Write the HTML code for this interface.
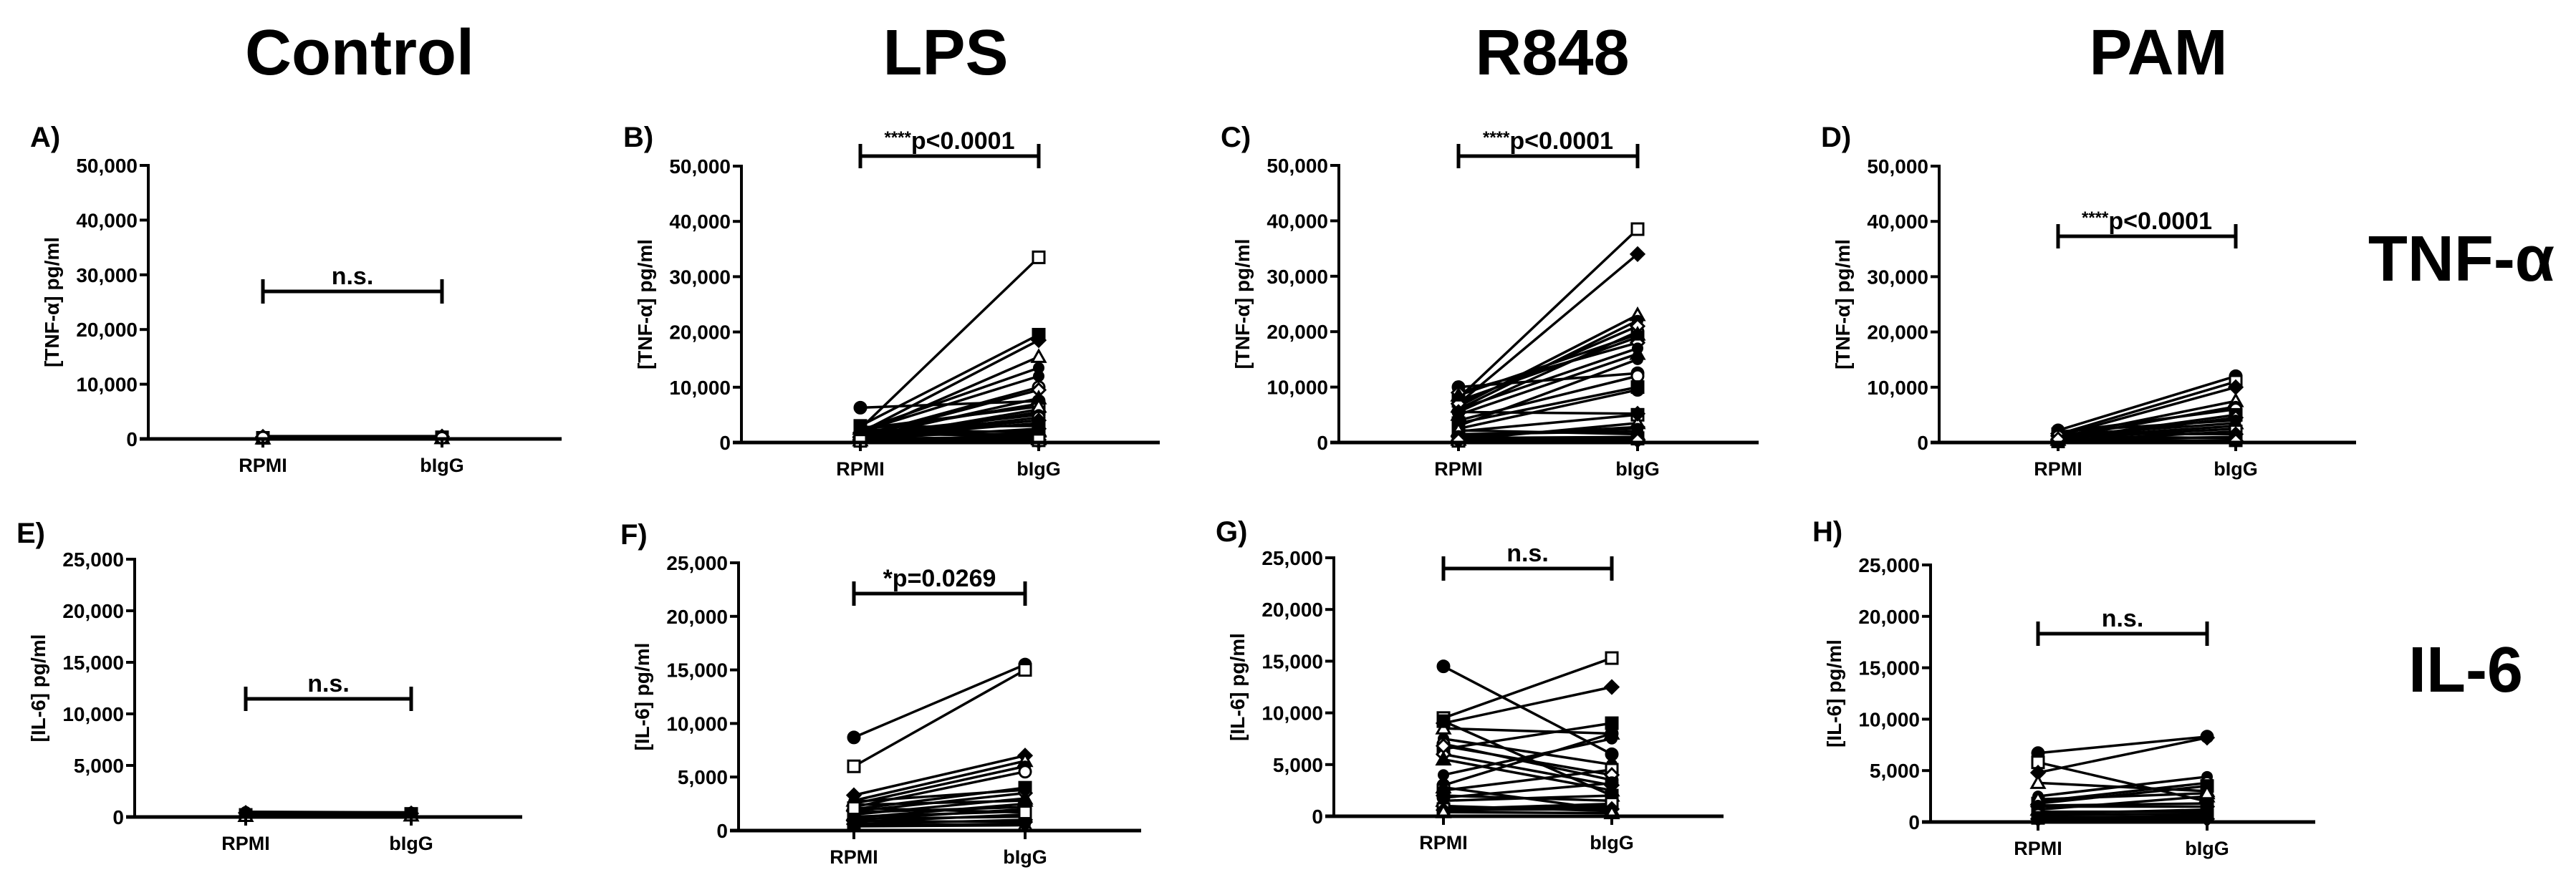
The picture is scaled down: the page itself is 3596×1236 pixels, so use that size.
<!DOCTYPE html>
<html><head><meta charset="utf-8"><style>
html,body{margin:0;padding:0;background:#fff;}
svg{display:block;font-family:"Liberation Sans",sans-serif;}
</style></head><body>
<svg id="fig" width="3596" height="1236" viewBox="0 0 3596 1236" xmlns="http://www.w3.org/2000/svg">
<text x="502" y="104" font-size="90" font-weight="bold" text-anchor="middle">Control</text>
<text x="1320" y="104" font-size="90" font-weight="bold" text-anchor="middle">LPS</text>
<text x="2167" y="104" font-size="90" font-weight="bold" text-anchor="middle">R848</text>
<text x="3013" y="104" font-size="90" font-weight="bold" text-anchor="middle">PAM</text>
<text x="3436" y="392" font-size="90" font-weight="bold" text-anchor="middle">TNF-α</text>
<text x="3442" y="966" font-size="90" font-weight="bold" text-anchor="middle">IL-6</text>
</svg>
<script>
const categories = ["RPMI", "bIgG"];
const tnfTicks = [0, 10000, 20000, 30000, 40000, 50000];
const il6Ticks = [0, 5000, 10000, 15000, 20000, 25000];
const tnfTickLabels = ["0", "10,000", "20,000", "30,000", "40,000", "50,000"];
const il6TickLabels = ["0", "5,000", "10,000", "15,000", "20,000", "25,000"];

const aRpmi = [300, 200, 400, 100, 500, 250];
const aBigg = [350, 300, 450, 150, 500, 200];
const bRpmi = [6300, 2500, 1800, 1500, 2000, 1200, 3000, 1000, 800, 2200, 1700, 500, 300, 2500, 1500, 1000, 2800, 600, 1900, 1400, 700, 2000, 1100, 400, 900, 1600, 2400, 200, 1300, 600, 900, 300];
const bBigg = [7500, 33500, 18500, 15500, 12000, 10000, 19500, 9500, 8000, 13500, 7000, 6000, 5500, 6500, 5000, 4500, 3000, 2500, 2000, 1500, 1000, 800, 4000, 600, 3500, 1200, 1800, 500, 2200, 700, 300, 400];
const cRpmi = [10000, 8000, 7000, 6500, 6000, 5500, 7500, 9000, 5000, 3000, 2500, 2000, 1000, 500, 6000, 4000, 3500, 7000, 8500, 1500, 800, 300, 5500, 2200, 1200, 600, 900, 400];
const cBigg = [12500, 38500, 34000, 23000, 22000, 20000, 19000, 18000, 16000, 15000, 9500, 5000, 2800, 3500, 17000, 12000, 10000, 21000, 19500, 2000, 1000, 800, 5200, 1500, 2500, 600, 700, 400];
const dRpmi = [2200, 1500, 1200, 1000, 800, 1800, 600, 400, 1300, 900, 700, 300, 1600, 500, 2000, 1100, 200, 600];
const dBigg = [12000, 11000, 10000, 7500, 6500, 6000, 5000, 4500, 3500, 3000, 2500, 2000, 1500, 1000, 4000, 800, 400, 300];
const eRpmi = [300, 200, 400, 100, 500];
const eBigg = [250, 300, 350, 150, 450];
const fRpmi = [8700, 6000, 3300, 2800, 2500, 2200, 2000, 1800, 1500, 1200, 1000, 800, 600, 400, 2700, 1700, 1300, 900, 2400, 500, 1100, 2100];
const fBigg = [15500, 15000, 7000, 6500, 6000, 5500, 4000, 3500, 3000, 2500, 2000, 1500, 1000, 500, 3800, 2200, 1800, 800, 2800, 600, 1300, 1700];
const gRpmi = [14500, 9500, 9000, 8500, 7500, 7000, 6500, 6000, 5500, 4000, 3000, 2500, 2000, 1500, 1000, 500, 9200, 6800, 2800, 800, 1800, 700, 600, 400];
const gBigg = [6000, 15300, 12500, 8000, 5000, 3500, 9000, 3000, 2500, 7500, 8000, 4500, 1500, 2000, 500, 1000, 2000, 4000, 600, 800, 3200, 1200, 700, 300];
const hRpmi = [6700, 5800, 4800, 3800, 2500, 2000, 1800, 1500, 1200, 1000, 800, 500, 300, 2200, 1600, 700, 400];
const hBigg = [8300, 2000, 8200, 3000, 4400, 3800, 3500, 1500, 2500, 1000, 1200, 500, 300, 2800, 1800, 800, 600];

const panels = [
 {id:"a", lab:"A)", ax:207, top:231, zero:613, x1:367, x2:617, end:784, max:50000, ticks:tnfTicks, tl:tnfTickLabels, yl:"[TNF-α] pg/ml", r:aRpmi, b:aBigg, sig:407, sigText:"n.s.", star:"", ly:205},
 {id:"b", lab:"B)", ax:1035, top:232, zero:618, x1:1201, x2:1450, end:1619, max:50000, ticks:tnfTicks, tl:tnfTickLabels, yl:"[TNF-α] pg/ml", r:bRpmi, b:bBigg, sig:218, sigText:"p<0.0001", star:"****", ly:205},
 {id:"c", lab:"C)", ax:1869, top:231, zero:618, x1:2036, x2:2286, end:2455, max:50000, ticks:tnfTicks, tl:tnfTickLabels, yl:"[TNF-α] pg/ml", r:cRpmi, b:cBigg, sig:218, sigText:"p<0.0001", star:"****", ly:205},
 {id:"d", lab:"D)", ax:2707, top:232, zero:618, x1:2873, x2:3121, end:3289, max:50000, ticks:tnfTicks, tl:tnfTickLabels, yl:"[TNF-α] pg/ml", r:dRpmi, b:dBigg, sig:330, sigText:"p<0.0001", star:"****", ly:205},
 {id:"e", lab:"E)", ax:188, top:781, zero:1141, x1:343, x2:574, end:729, max:25000, ticks:il6Ticks, tl:il6TickLabels, yl:"[IL-6] pg/ml", r:eRpmi, b:eBigg, sig:976, sigText:"n.s.", star:"", ly:758},
 {id:"f", lab:"F)", ax:1031, top:786, zero:1160, x1:1192, x2:1431, end:1593, max:25000, ticks:il6Ticks, tl:il6TickLabels, yl:"[IL-6] pg/ml", r:fRpmi, b:fBigg, sig:829, sigText:"*p=0.0269", star:"", ly:760},
 {id:"g", lab:"G)", ax:1862, top:779, zero:1140, x1:2015, x2:2250, end:2406, max:25000, ticks:il6Ticks, tl:il6TickLabels, yl:"[IL-6] pg/ml", r:gRpmi, b:gBigg, sig:794, sigText:"n.s.", star:"", ly:756},
 {id:"h", lab:"H)", ax:2695, top:789, zero:1148, x1:2845, x2:3081, end:3232, max:25000, ticks:il6Ticks, tl:il6TickLabels, yl:"[IL-6] pg/ml", r:hRpmi, b:hBigg, sig:885, sigText:"n.s.", star:"", ly:756}
];
const NS = "http://www.w3.org/2000/svg";
const svg = document.getElementById("fig");
function mk(tag, attrs, parent){const e=document.createElementNS(NS,tag);for(const k in attrs)e.setAttribute(k,attrs[k]);(parent||svg).appendChild(e);return e;}
function marker(g, x, y, i){
  const s = i % 5, fill = (i % 2 === 0) ? "#000" : "#fff";
  let m;
  if (s === 0) m = mk("circle",{cx:x,cy:y,r:8,fill:fill,stroke:"#000","stroke-width":3},g);
  else if (s === 1) m = mk("rect",{x:x-8,y:y-8,width:16,height:16,fill:fill,stroke:"#000","stroke-width":3},g);
  else if (s === 2) m = mk("polygon",{points:`${x},${y-9} ${x+9},${y} ${x},${y+9} ${x-9},${y}`,fill:fill,stroke:"#000","stroke-width":3},g);
  else if (s === 3) m = mk("polygon",{points:`${x},${y-9} ${x+9},${y+7} ${x-9},${y+7}`,fill:fill,stroke:"#000","stroke-width":3},g);
  else m = mk("circle",{cx:x,cy:y,r:7,fill:"#000",stroke:"#000","stroke-width":2},g);
  
  
}
panels.forEach(p=>{
  const g = mk("g",{});
  
  
  const yS = v => p.zero - (v / p.max) * (p.zero - p.top);
  const xS = i => i === 0 ? p.x1 : p.x2;
  const lab = mk("text",{x:p.ax-165,y:p.ly,"font-size":40,"font-weight":"bold"},g);
  lab.textContent = p.lab;
  
  
  const ya = mk("line",{x1:p.ax,y1:p.top-2,x2:p.ax,y2:p.zero,stroke:"#000","stroke-width":4},g);
  
  
  p.ticks.forEach((t,i)=>{
    const y = yS(t);
    const tk = mk("line",{x1:p.ax-12,y1:y,x2:p.ax,y2:y,stroke:"#000","stroke-width":4},g);
    
    
    const tx = mk("text",{x:p.ax-15,y:y+10,"font-size":28,"font-weight":"bold","text-anchor":"end"},g);
    tx.textContent = p.tl[i];
    
    
  });
  const ylab = mk("text",{x:0,y:0,"font-size":28,"font-weight":"bold","text-anchor":"middle",transform:`translate(${p.ax-125},${(p.top+p.zero)/2}) rotate(-90)`},g);
  ylab.textContent = p.yl;
  
  
  p.r.forEach((v,i)=>{
    const l = mk("line",{x1:xS(0),y1:yS(v),x2:xS(1),y2:yS(p.b[i]),stroke:"#000","stroke-width":3.5},g);
    
    
  });
  p.r.forEach((v,i)=>{ marker(g, xS(0), yS(v), i); marker(g, xS(1), yS(p.b[i]), i); });
  const xa = mk("line",{x1:p.ax-12,y1:p.zero,x2:p.end,y2:p.zero,stroke:"#000","stroke-width":5},g);
  
  
  categories.forEach((c,i)=>{
    const tk = mk("line",{x1:xS(i),y1:p.zero,x2:xS(i),y2:p.zero+12,stroke:"#000","stroke-width":4},g);
    
    
    const tx = mk("text",{x:xS(i),y:p.zero+46,"font-size":27,"font-weight":"bold","text-anchor":"middle"},g);
    tx.textContent = c;
    
    
  });
  const sb = mk("path",{d:`M${p.x1},${p.sig-17}V${p.sig+17}M${p.x1},${p.sig}H${p.x2}M${p.x2},${p.sig-17}V${p.sig+17}`,stroke:"#000","stroke-width":5,fill:"none"},g);
  
  
  const mid = (p.x1+p.x2)/2;
  const st = mk("text",{x:mid,y:p.sig-10,"font-size":34,"font-weight":"bold","text-anchor":"middle"},g);
  if (p.star) {
    const ts = mk("tspan",{"font-size":24,dy:-8},st); ts.textContent = p.star;
    const tp = mk("tspan",{dy:8},st); tp.textContent = p.sigText;
  } else st.textContent = p.sigText;
  
  
});
</script>
</body></html>
